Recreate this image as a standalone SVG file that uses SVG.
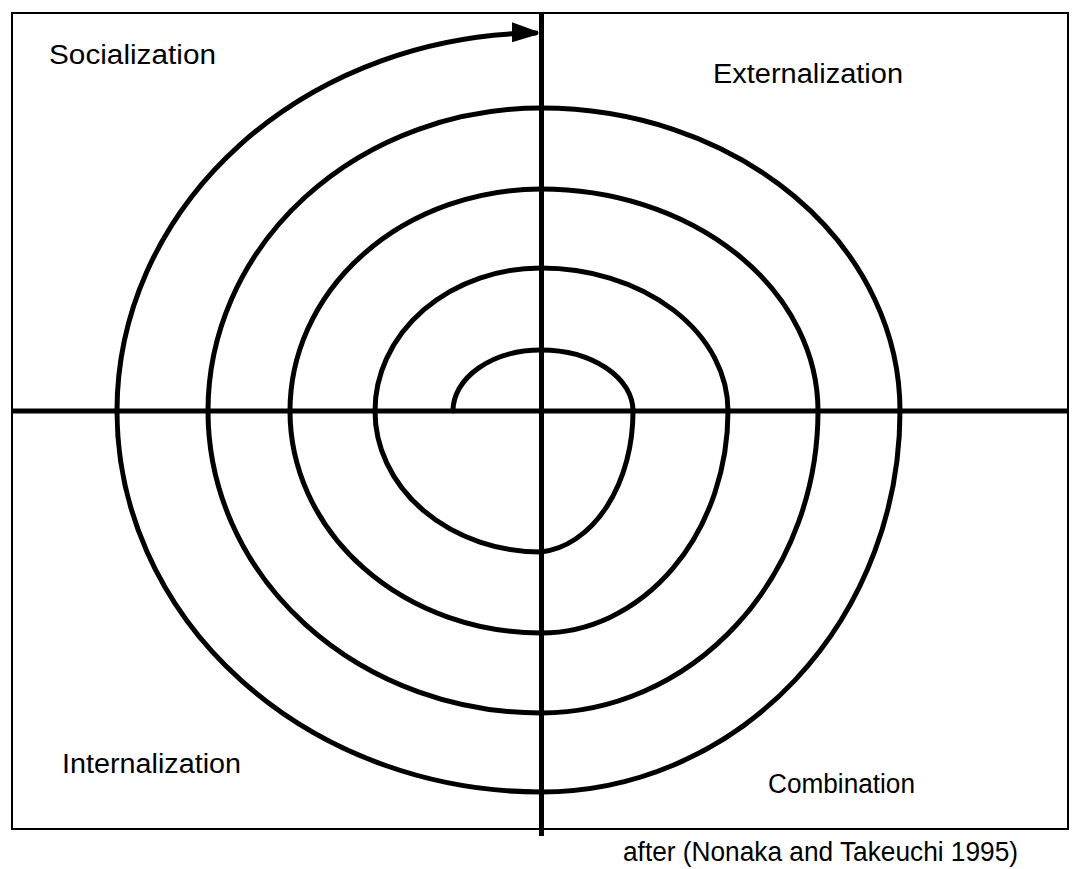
<svg xmlns="http://www.w3.org/2000/svg" width="1072" height="869" viewBox="0 0 1072 869">
<style>
.lbl{font-family:"Liberation Sans",Arial,sans-serif;font-size:27px;fill:#000}
.frame{fill:none;stroke:#000;stroke-width:2}
.axis{stroke:#000;stroke-width:5;fill:none}
.spiral{stroke:#000;stroke-width:5;fill:none;stroke-linecap:round}
</style>
<defs>
<marker id="arrow" markerUnits="userSpaceOnUse" markerWidth="26" markerHeight="24" refX="24" refY="12" orient="auto">
<path d="M0,1 L24,10 L24,14 L0,21 Z" fill="#000"/>
</marker>
</defs>
<rect width="1072" height="869" fill="#fff"/>
<g id="frame"><rect class="frame" x="12" y="13" width="1056" height="816"/></g>
<g id="connectors">
<line id="v-axis" class="axis" x1="541.5" y1="13" x2="541.5" y2="836"/>
<line id="h-axis" class="axis" x1="12" y1="411" x2="1068" y2="411"/>
<path id="spiral" class="spiral" marker-end="url(#arrow)" d="M453,411 A88,61 0 0 1 541,350 A92,61 0 0 1 633,411 A100,141 0 0 1 541,552 A166,141 0 0 1 375,411 A166,143 0 0 1 541,268 A187,143 0 0 1 728,411 A187,222 0 0 1 541,633 A251,222 0 0 1 290,411 A251,222 0 0 1 541,189 A277,222 0 0 1 818,411 A277,302 0 0 1 541,713 A333,302 0 0 1 208,411 A333,303 0 0 1 541,108 A359,303 0 0 1 900,411 A359,381 0 0 1 541,792 A424,381 0 0 1 117,411 A424,378 0 0 1 536,33"/>
</g>
<g id="socialization"><text class="lbl" x="49" y="64" textLength="167" lengthAdjust="spacingAndGlyphs">Socialization</text></g>
<g id="externalization"><text class="lbl" x="713" y="83" textLength="190" lengthAdjust="spacingAndGlyphs">Externalization</text></g>
<g id="internalization"><text class="lbl" x="62" y="773" textLength="179" lengthAdjust="spacingAndGlyphs">Internalization</text></g>
<g id="combination"><text class="lbl" x="768" y="793" textLength="147" lengthAdjust="spacingAndGlyphs">Combination</text></g>
<g id="source"><text class="lbl" x="623" y="861" textLength="395" lengthAdjust="spacingAndGlyphs">after (Nonaka and Takeuchi 1995)</text></g>
</svg>
